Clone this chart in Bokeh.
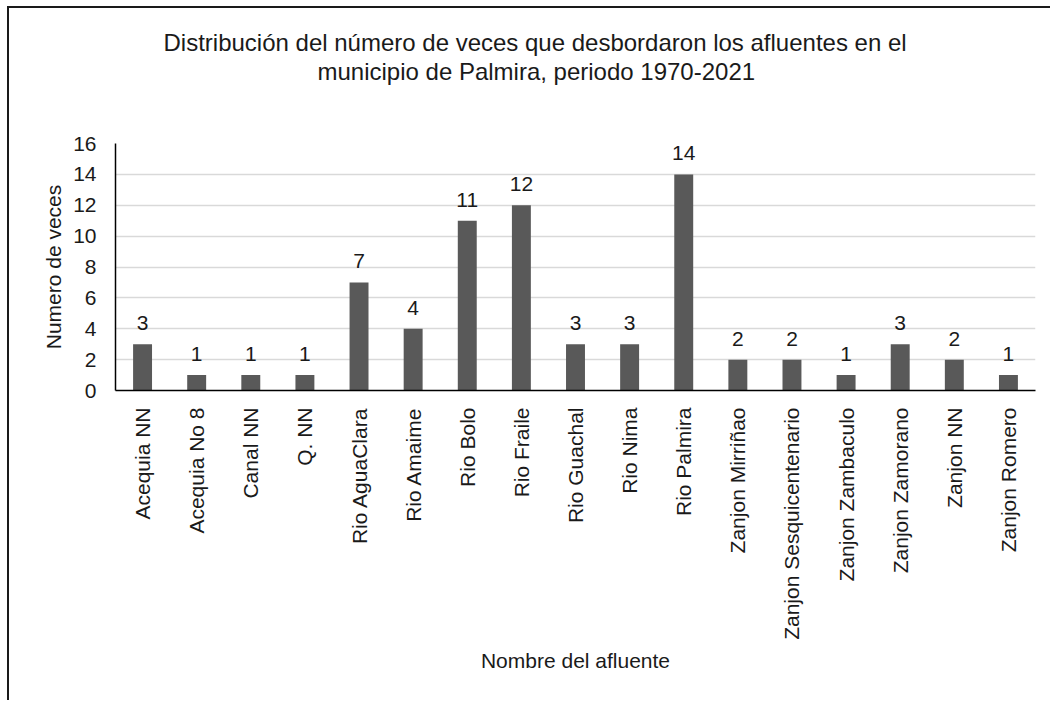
from bokeh.plotting import figure
from bokeh.models import ColumnDataSource, FactorRange, Range1d, FixedTicker, LabelSet, Title
from bokeh.core.properties import value
from bokeh.embed import file_html
from bokeh.resources import INLINE
from math import pi

categories = ["Acequia NN", "Acequia No 8", "Canal NN", "Q. NN", "Rio AguaClara",
              "Rio Amaime", "Rio Bolo", "Rio Fraile", "Rio Guachal", "Rio Nima",
              "Rio Palmira", "Zanjon Mirriñao", "Zanjon Sesquicentenario",
              "Zanjon Zambaculo", "Zanjon Zamorano", "Zanjon NN", "Zanjon Romero"]
values = [3, 1, 1, 1, 7, 4, 11, 12, 3, 3, 14, 2, 2, 1, 3, 2, 1]
y_ticks = [0, 2, 4, 6, 8, 10, 12, 14, 16]
title_lines = ["Distribución del número de veces que desbordaron los afluentes en el",
               "municipio de Palmira, periodo 1970-2021"]
x_title = "Nombre del afluente"
y_title = "Numero de veces"

FONT = "Liberation Sans"
FS = "21px"

src = ColumnDataSource(dict(cat=categories, val=values, lab=[str(v) for v in values]))

p = figure(width=1043, height=694, output_backend="svg", toolbar_location=None,
           x_range=FactorRange(*categories, range_padding=0),
           y_range=Range1d(0, 16),
           min_border_left=106, min_border_right=17, min_border_top=0, min_border_bottom=312)
p.styles = {"margin-left": "7px", "margin-top": "6px",
            "border-left": "2px solid #1a1a1a", "border-top": "2px solid #1a1a1a"}
p.outline_line_color = None
p.background_fill_color = "white"
p.border_fill_color = "white"

p.vbar(x="cat", top="val", width=0.35, source=src, fill_color="#595959", line_color=None)

labels = LabelSet(x="cat", y="val", text="lab", source=src, y_offset=14,
                  text_align="center", text_baseline="alphabetic",
                  text_font=value(FONT), text_font_size=value(FS), text_color="#1a1a1a")
p.add_layout(labels)

# axes
p.xgrid.grid_line_color = None
p.ygrid.grid_line_color = "#d9d9d9"
p.ygrid.grid_line_width = 1.5
p.yaxis.ticker = FixedTicker(ticks=y_ticks)

for ax in (p.xaxis[0], p.yaxis[0]):
    ax.axis_line_color = "black"
    ax.axis_line_width = 1.5
    ax.major_tick_line_color = None
    ax.minor_tick_line_color = None
    ax.major_label_text_font = FONT
    ax.major_label_text_font_size = FS
    ax.major_label_text_color = "#1a1a1a"
    ax.axis_label_text_font = FONT
    ax.axis_label_text_font_size = FS
    ax.axis_label_text_font_style = "normal"
    ax.axis_label_text_color = "#1a1a1a"

p.yaxis.major_label_standoff = 13
p.yaxis.axis_label = y_title
p.yaxis.axis_label_standoff = 5
p.xaxis.major_label_orientation = pi / 2
p.xaxis.major_label_standoff = 11
p.xaxis.axis_label = x_title
p.xaxis.axis_label_standoff = 6

# title block (closest to the frame is added first)
p.add_layout(Title(text=" ", text_font_size="40px", standoff=13), "above")
p.add_layout(Title(text=title_lines[1], align="left", offset=202, standoff=0,
                   text_font=FONT, text_font_size="24px", text_font_style="normal",
                   text_color="#1a1a1a"), "above")
p.add_layout(Title(text=title_lines[0], align="left", offset=48, standoff=0,
                   text_font=FONT, text_font_size="24px", text_font_style="normal",
                   text_color="#1a1a1a"), "above")
p.add_layout(Title(text=" ", text_font_size="12px", standoff=2), "above")

open("out.html", "w").write(file_html(p, INLINE))
